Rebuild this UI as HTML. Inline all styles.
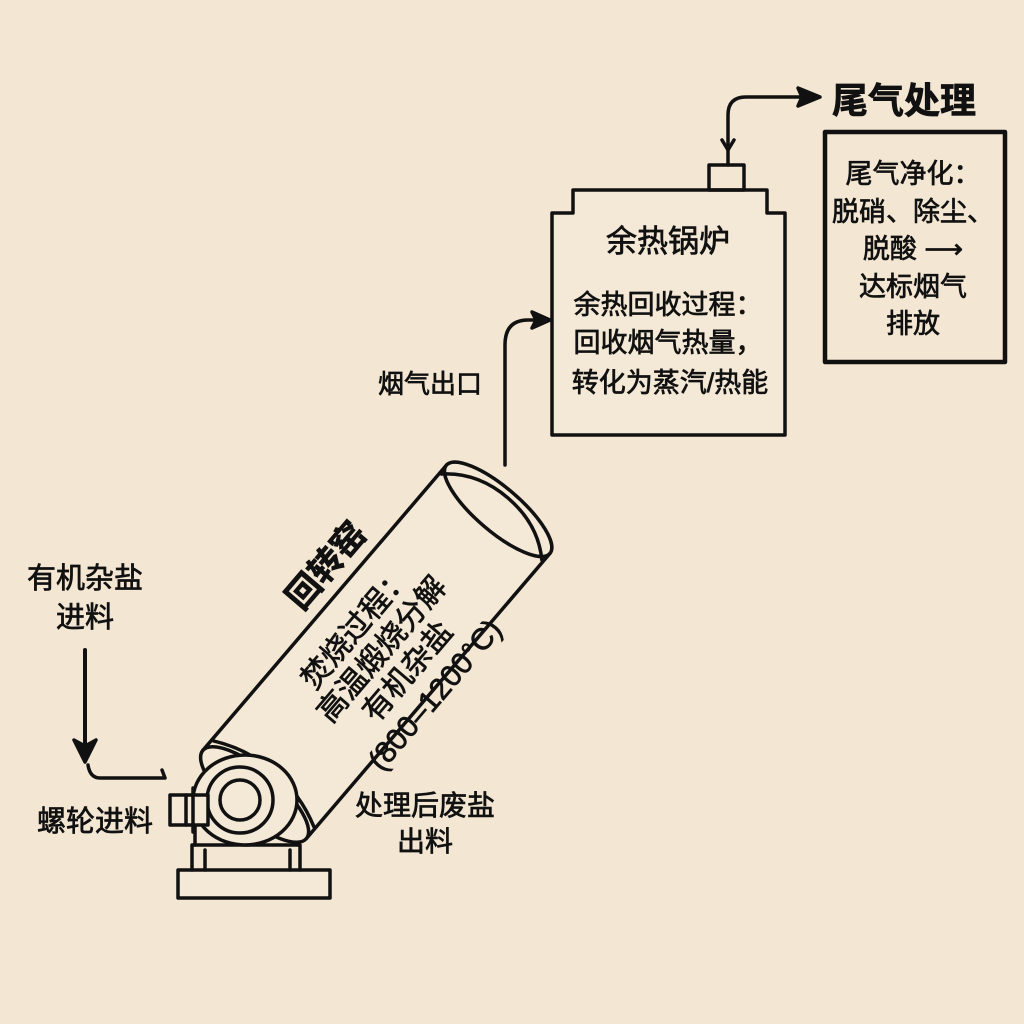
<!DOCTYPE html>
<html><head><meta charset="utf-8"><style>
html,body{margin:0;padding:0;background:#f3e7d4;}
svg{display:block}
text{font-family:"Liberation Sans","Noto Sans CJK SC",sans-serif;fill:#111;stroke:#111;stroke-width:0.7;}
</style></head><body>
<svg width="1024" height="1024" viewBox="0 0 1024 1024" xmlns="http://www.w3.org/2000/svg">
<rect width="1024" height="1024" fill="#f3e7d4"/>
<g fill="none" stroke="#111" stroke-width="3.5" stroke-linecap="round" stroke-linejoin="round">
<!-- boiler -->
<path d="M552,435 V213 H573 V190 H767 V213 H785 V435 Z" fill="#f4e8d6"/>
<rect x="709" y="165" width="35" height="25"/>
<path d="M728,165 V115 Q728,97 746,97 H800"/>
<path d="M722,140 L728,150 L734,140"/>
<polygon points="820,97 798,88 802,97 798,106" fill="#111"/>
<!-- treatment box -->
<rect x="825" y="132" width="180" height="230" stroke-width="4.5"/>
<!-- flue pipe -->
<path d="M505,465 V345 Q505,320 528,320 H538"/>
<polygon points="550,320 532,312 536,320 532,328" fill="#111"/>
<!-- feed arrow -->
<path d="M85,650 V748" stroke-width="4"/>
<polygon points="85,762 74,740 85,746 96,740" fill="#111"/>
<path d="M88,765 Q90,778 100,778 H165 M162,770 L165,778"/>
<!-- kiln base -->
<rect x="178" y="870" width="152" height="28" fill="#f4e8d6"/>
<path d="M192,870 V845 H300 V870 M205,870 V850 M290,870 V850"/>
<path d="M195,845 V825 M298,845 V830"/>
<!-- kiln cylinder -->
<g transform="translate(378,650) rotate(-49.5)">
<rect x="-190" y="-68" width="375" height="136" fill="#f4e8d6" stroke="none"/>
<path d="M-190,-68 H185 M-190,68 H185"/>
<ellipse cx="185" cy="0" rx="22" ry="68" fill="#f4e8d6"/>
<path d="M175,-66 Q200,-40 200,0 Q200,40 175,66"/>
<ellipse cx="-190" cy="0" rx="24" ry="68" fill="#f4e8d6"/>
<path d="M-176,-66 Q-160,-35 -160,0 Q-160,35 -176,66"/>
</g>
<!-- drive -->
<ellipse cx="245" cy="800" rx="52" ry="45" fill="#f4e8d6"/>
<circle cx="240" cy="800" r="33" fill="#f4e8d6"/>
<circle cx="240" cy="800" r="20"/>
<rect x="170" y="795" width="38" height="30" fill="#f4e8d6"/>
<path d="M186,795 V825 M193,788 V832"/>
</g>
<!-- texts -->
<text x="832" y="113" font-size="36" font-weight="bold" stroke-width="0">尾气处理</text>
<g font-size="27" text-anchor="middle">
<text x="913" y="183">尾气净化：</text>
<text x="913" y="221">脱硝、除尘、</text>
<text x="913" y="258">脱酸 ⟶</text>
<text x="913" y="296">达标烟气</text>
<text x="913" y="333">排放</text>
</g>
<text x="668" y="252" font-size="31" text-anchor="middle">余热锅炉</text>
<g font-size="27" text-anchor="middle">
<text x="668" y="314">余热回收过程：</text>
<text x="668" y="352">回收烟气热量，</text>
<text x="670" y="392">转化为蒸汽/热能</text>
</g>
<text x="430" y="393" font-size="26" text-anchor="middle">烟气出口</text>
<g font-size="29" text-anchor="middle">
<text x="85" y="588">有机杂盐</text>
<text x="85" y="627">进料</text>
</g>
<text x="95" y="831" font-size="29" text-anchor="middle">螺轮进料</text>
<g font-size="28" text-anchor="middle">
<text x="425" y="815">处理后废盐</text>
<text x="425" y="851">出料</text>
</g>
<text transform="translate(335,573) rotate(-49.5)" font-size="34" font-weight="bold" stroke-width="0" text-anchor="middle">回转窑</text>
<g transform="translate(400,665) rotate(-49.5)" font-size="30" text-anchor="middle">
<text x="0" y="-48">焚烧过程：</text>
<text x="0" y="-14">高温煅烧分解</text>
<text x="0" y="20">有机杂盐</text>
<text x="0" y="56">(800–1200°C)</text>
</g>
</svg>
</body></html>
